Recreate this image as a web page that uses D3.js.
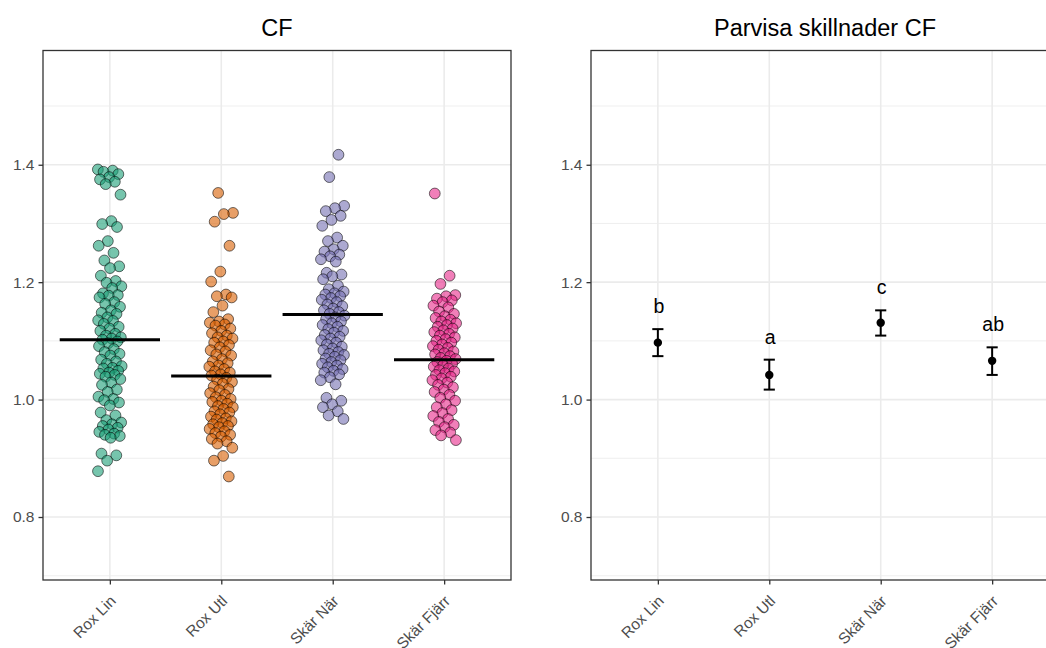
<!DOCTYPE html>
<html>
<head>
<meta charset="utf-8">
<script src="https://cdn.jsdelivr.net/npm/d3@7"></script>
<style>
body { margin: 0; background: #fff; }
svg { font-family: "Liberation Sans", Arial, sans-serif; }
</style>
</head>
<body>
<svg width="1046" height="648"></svg>
<script>
var groups = ["Rox Lin", "Rox Utl", "Skär När", "Skär Fjärr"];
var groupColors = ["#1B9E77", "#D95F02", "#7570B3", "#E7298A"];

// CF per fish
var roxLin = [1.392, 1.390, 1.388, 1.384, 1.379, 1.375, 1.371, 1.367, 1.349,
    1.304, 1.299, 1.294, 1.270, 1.262, 1.250, 1.237, 1.227, 1.224, 1.211,
    1.202, 1.199, 1.193, 1.190, 1.181, 1.178, 1.177, 1.174, 1.166, 1.163, 1.158,
    1.152, 1.148, 1.146, 1.140, 1.135, 1.134, 1.129, 1.124, 1.121, 1.117, 1.112,
    1.109, 1.106, 1.104, 1.102, 1.099, 1.096, 1.091, 1.086, 1.081, 1.078, 1.075,
    1.068, 1.065, 1.061, 1.057, 1.054, 1.053, 1.049, 1.046, 1.044, 1.042, 1.039,
    1.035, 1.029, 1.025, 1.017, 1.013, 1.005, 1.001, 0.999, 0.995, 0.990, 0.978,
    0.973, 0.965, 0.961, 0.958, 0.955, 0.952, 0.949, 0.945, 0.942, 0.940, 0.938,
    0.935, 0.908, 0.905, 0.896, 0.878];
var roxUtl = [1.352, 1.318, 1.316, 1.303, 1.262, 1.218, 1.201, 1.179, 1.176, 1.174,
    1.160, 1.149, 1.137, 1.133, 1.131, 1.128, 1.126, 1.121, 1.117, 1.113, 1.109,
    1.106, 1.104, 1.099, 1.097, 1.093, 1.089, 1.084, 1.082, 1.077, 1.075, 1.069,
    1.065, 1.062, 1.058, 1.056, 1.052, 1.048, 1.046, 1.043, 1.041, 1.037, 1.034,
    1.030, 1.027, 1.022, 1.018, 1.016, 1.011, 1.008, 1.004, 1.001, 0.998, 0.996,
    0.993, 0.989, 0.987, 0.984, 0.980, 0.978, 0.975, 0.971, 0.968, 0.966, 0.963,
    0.960, 0.958, 0.955, 0.953, 0.950, 0.946, 0.943, 0.940, 0.937, 0.933, 0.929,
    0.925, 0.918, 0.904, 0.896, 0.869];
var skarNar = [1.417, 1.379, 1.330, 1.326, 1.321, 1.313, 1.306, 1.296, 1.276, 1.270,
    1.262, 1.256, 1.252, 1.247, 1.244, 1.239, 1.235, 1.216, 1.213, 1.210, 1.205,
    1.194, 1.188, 1.184, 1.181, 1.179, 1.176, 1.173, 1.170, 1.166, 1.162, 1.159,
    1.155, 1.152, 1.149, 1.146, 1.143, 1.140, 1.137, 1.133, 1.130, 1.127, 1.124,
    1.120, 1.117, 1.114, 1.110, 1.107, 1.104, 1.101, 1.097, 1.094, 1.090, 1.087,
    1.084, 1.081, 1.078, 1.076, 1.073, 1.070, 1.067, 1.064, 1.061, 1.058, 1.055,
    1.052, 1.049, 1.046, 1.043, 1.038, 1.033, 1.026, 1.003, 0.998, 0.992, 0.987,
    0.980, 0.973, 0.967];
var skarFjarr = [1.351, 1.211, 1.197, 1.178, 1.176, 1.172, 1.169, 1.166, 1.160,
    1.157, 1.150, 1.146, 1.142, 1.139, 1.136, 1.133, 1.130, 1.127, 1.124, 1.121,
    1.118, 1.115, 1.112, 1.109, 1.106, 1.103, 1.100, 1.097, 1.094, 1.091, 1.088,
    1.085, 1.082, 1.079, 1.077, 1.074, 1.071, 1.069, 1.066, 1.064, 1.061, 1.058,
    1.056, 1.053, 1.050, 1.048, 1.045, 1.042, 1.039, 1.036, 1.033, 1.029, 1.025,
    1.021, 1.017, 1.013, 1.008, 1.003, 0.998, 0.992, 0.987, 0.982, 0.977, 0.972,
    0.967, 0.962, 0.957, 0.953, 0.948, 0.944, 0.939, 0.931];
var groupValues = [roxLin, roxUtl, skarNar, skarFjarr];
var groupMeans = [1.102, 1.040, 1.145, 1.068];

// pairwise comparison (estimated marginal means)
var emmean = [1.097, 1.042, 1.131, 1.066];
var lowerCL = [1.074, 1.017, 1.109, 1.042];
var upperCL = [1.120, 1.068, 1.152, 1.089];
var letters = ["b", "a", "c", "ab"];

var yMajor = [0.8, 1.0, 1.2, 1.4];
var yMinor = [0.7, 0.9, 1.1, 1.3, 1.5];

var svg = d3.select("svg");
var panelTop = 50.5, panelBottom = 580;

var y = d3.scaleLinear()
    .domain([0.6927, 1.5946])
    .range([panelBottom, panelTop]);

var xLeft = drawPanel(43, 511, "CF");
var xRight = drawPanel(591, 1059, "Parvisa skillnader CF");

// JITTERED POINTS
var jitter = 12;
var pts = [];
groupValues.forEach(function(vals, g) {
    vals.forEach(function(v, i) {
        // golden ratio spread instead of random jitter
        var u = (i * 0.6180339 + g * 0.37) % 1;
        pts.push({group: g, value: v, dx: (u - 0.5) * 2 * jitter});
    });
});

svg.append("g").selectAll("circle")
    .data(pts)
    .enter()
    .append("circle")
    .attr("cx", function(d) { return xLeft(groups[d.group]) + d.dx; })
    .attr("cy", function(d) { return y(d.value); })
    .attr("r", 5.4)
    .attr("fill", function(d) { return groupColors[d.group]; })
    .attr("fill-opacity", 0.6)
    .attr("stroke", "#000")
    .attr("stroke-opacity", 0.55)
    .attr("stroke-width", 1);

// MEANS
var half = xLeft.step() * 0.45;
svg.append("g").selectAll("line")
    .data(groupMeans)
    .enter()
    .append("line")
    .attr("x1", function(d, i) { return xLeft(groups[i]) - half; })
    .attr("x2", function(d, i) { return xLeft(groups[i]) + half; })
    .attr("y1", function(d) { return y(d); })
    .attr("y2", function(d) { return y(d); })
    .attr("stroke", "#000")
    .attr("stroke-width", 3);

// ERROR BARS
var cap = xRight.step() * 0.05;
var bars = svg.append("g").selectAll("g")
    .data(emmean)
    .enter()
    .append("g");
bars.append("line")
    .attr("x1", function(d, i) { return xRight(groups[i]); })
    .attr("x2", function(d, i) { return xRight(groups[i]); })
    .attr("y1", function(d, i) { return y(lowerCL[i]); })
    .attr("y2", function(d, i) { return y(upperCL[i]); });
bars.append("line")
    .attr("x1", function(d, i) { return xRight(groups[i]) - cap; })
    .attr("x2", function(d, i) { return xRight(groups[i]) + cap; })
    .attr("y1", function(d, i) { return y(lowerCL[i]); })
    .attr("y2", function(d, i) { return y(lowerCL[i]); });
bars.append("line")
    .attr("x1", function(d, i) { return xRight(groups[i]) - cap; })
    .attr("x2", function(d, i) { return xRight(groups[i]) + cap; })
    .attr("y1", function(d, i) { return y(upperCL[i]); })
    .attr("y2", function(d, i) { return y(upperCL[i]); });
bars.selectAll("line")
    .attr("stroke", "#000")
    .attr("stroke-width", 2);
bars.append("circle")
    .attr("cx", function(d, i) { return xRight(groups[i]); })
    .attr("cy", function(d) { return y(d); })
    .attr("r", 4.2)
    .attr("fill", "#000");
bars.append("text")
    .attr("x", function(d, i) { return xRight(groups[i]) + 1; })
    .attr("y", function(d, i) { return y(upperCL[i]) - 16; })
    .attr("text-anchor", "middle")
    .attr("font-size", 19.5)
    .attr("fill", "#000")
    .text(function(d, i) { return letters[i]; });

////////////////////////////////////////////////////////////////////////////////

function drawPanel(x0, x1, title) {
    var x = d3.scalePoint()
        .domain(groups)
        .range([x0, x1])
        .padding(0.6);

    var g = svg.append("g");
    var right = Math.min(x1, 1046);

    g.selectAll(".minor")
        .data(yMinor)
        .enter()
        .append("line")
        .attr("x1", x0).attr("x2", right)
        .attr("y1", function(d) { return y(d); })
        .attr("y2", function(d) { return y(d); })
        .attr("stroke", "#EBEBEB")
        .attr("stroke-width", 0.8);

    g.selectAll(".major")
        .data(yMajor)
        .enter()
        .append("line")
        .attr("x1", x0).attr("x2", right)
        .attr("y1", function(d) { return y(d); })
        .attr("y2", function(d) { return y(d); })
        .attr("stroke", "#EBEBEB")
        .attr("stroke-width", 1.6);

    g.selectAll(".vmajor")
        .data(groups)
        .enter()
        .append("line")
        .attr("x1", function(d) { return x(d); })
        .attr("x2", function(d) { return x(d); })
        .attr("y1", panelTop).attr("y2", panelBottom)
        .attr("stroke", "#EBEBEB")
        .attr("stroke-width", 1.6);

    g.append("rect")
        .attr("x", x0).attr("y", panelTop)
        .attr("width", x1 - x0).attr("height", panelBottom - panelTop)
        .attr("fill", "none")
        .attr("stroke", "#333")
        .attr("stroke-width", 1.3);

    var yAxis = d3.axisLeft(y)
        .tickValues(yMajor)
        .tickFormat(d3.format(".1f"))
        .tickSize(4.5)
        .tickPadding(4);
    var ya = g.append("g")
        .attr("transform", "translate(" + x0 + ",0)")
        .call(yAxis);
    ya.select(".domain").remove();
    ya.selectAll("line").attr("stroke", "#333").attr("stroke-width", 1.3);
    ya.selectAll("text")
        .attr("fill", "#4D4D4D")
        .attr("font-size", 15.5)
        .attr("font-family", "Liberation Sans, Arial, sans-serif");

    var xAxis = d3.axisBottom(x)
        .tickSize(4.5)
        .tickFormat("");
    var xa = g.append("g")
        .attr("transform", "translate(0," + panelBottom + ")")
        .call(xAxis);
    xa.select(".domain").remove();
    xa.selectAll("line").attr("stroke", "#333").attr("stroke-width", 1.3);

    g.selectAll(".xlab")
        .data(groups)
        .enter()
        .append("text")
        .attr("transform", function(d) { return "translate(" + (x(d) + 7) + "," + (panelBottom + 22) + ") rotate(-45)"; })
        .attr("text-anchor", "end")
        .attr("fill", "#4D4D4D")
        .attr("font-size", 15.5)
        .text(function(d) { return d; });

    g.append("text")
        .attr("x", (x0 + x1) / 2)
        .attr("y", 35.5)
        .attr("text-anchor", "middle")
        .attr("font-size", 23.5)
        .attr("fill", "#000")
        .text(title);

    return x;
}
</script>
</body>
</html>
